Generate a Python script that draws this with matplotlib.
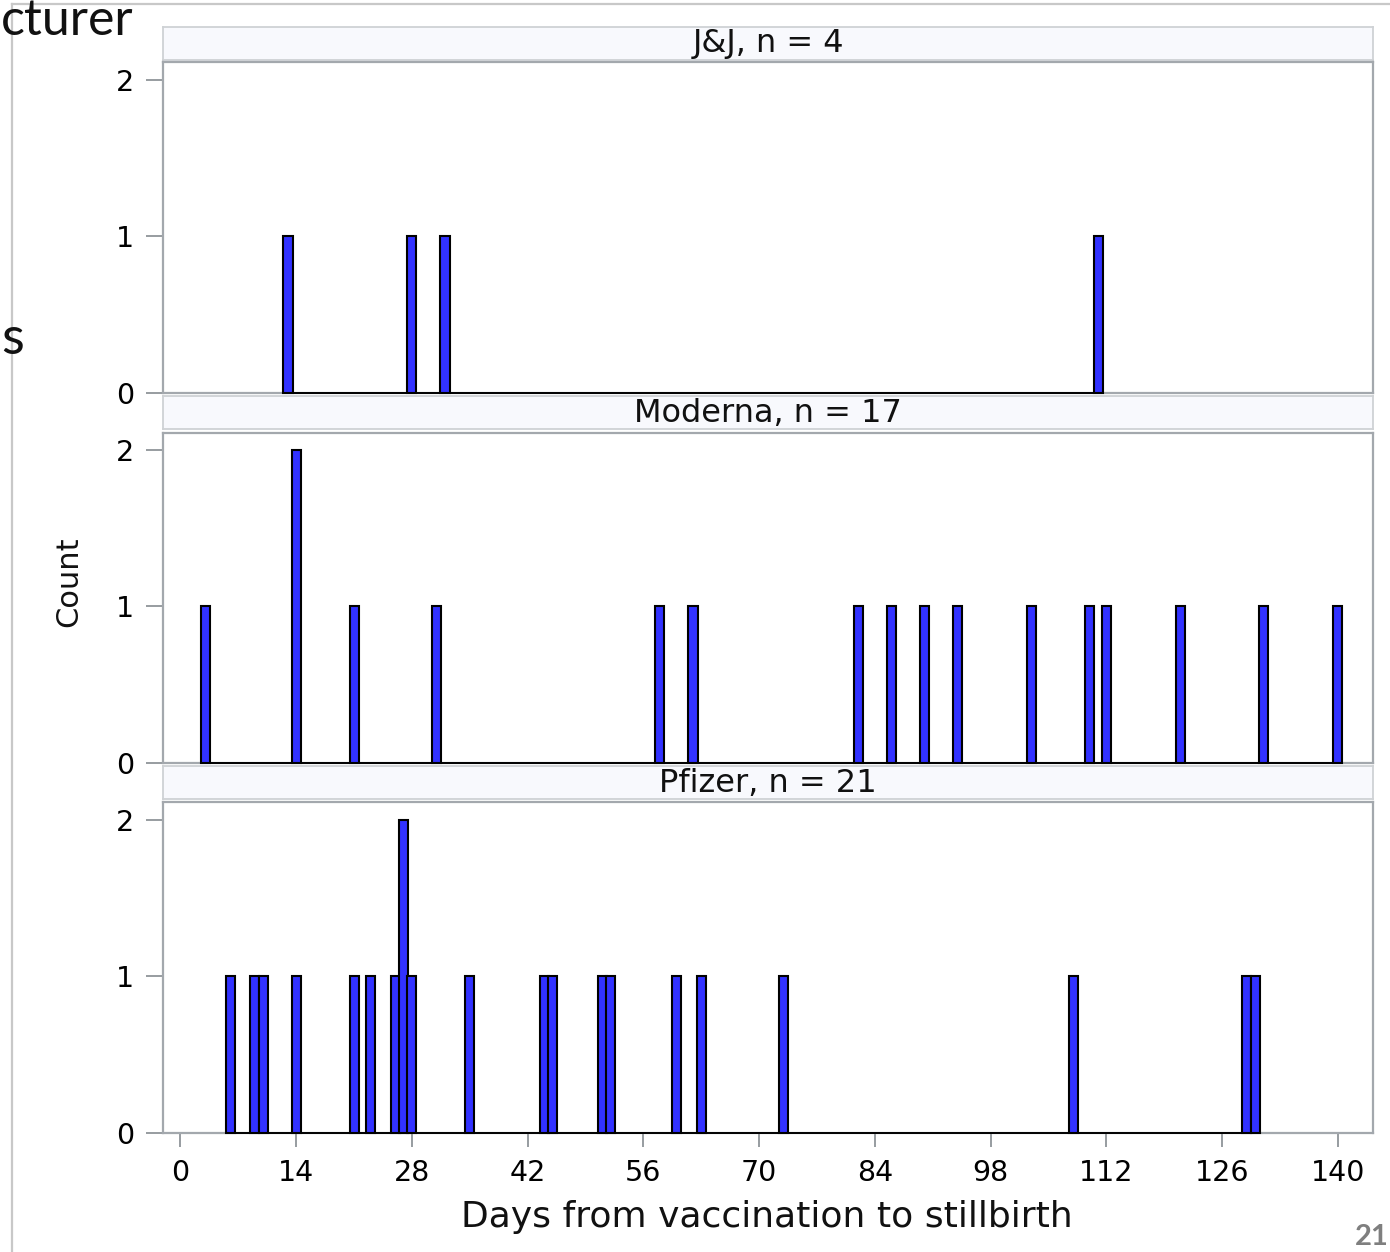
import matplotlib
matplotlib.use("Agg")
import matplotlib.pyplot as plt
from matplotlib.lines import Line2D

W, H = 1390, 1252
DPI = 100

# days from vaccination to stillbirth (one entry per bar) and bar heights
jj_days = [13, 28, 32, 111]
jj_count = [1, 1, 1, 1]

moderna_days = [3, 14, 21, 31, 58, 62, 82, 86, 90, 94, 103, 110, 112, 121, 131, 140]
moderna_count = [1, 2, 1, 1, 1, 1, 1, 1, 1, 1, 1, 1, 1, 1, 1, 1]

pfizer_days = [6, 9, 10, 14, 21, 23, 26, 27, 28, 35, 44, 45, 51, 52, 60, 63, 73, 108, 129, 130]
pfizer_count = [1, 1, 1, 1, 1, 1, 1, 2, 1, 1, 1, 1, 1, 1, 1, 1, 1, 1, 1, 1]

makers = ["J&J", "Moderna", "Pfizer"]
x_ticks = [0, 14, 28, 42, 56, 70, 84, 98, 112, 126, 140]
y_ticks = [0, 1, 2]

series = [(jj_days, jj_count), (moderna_days, moderna_count), (pfizer_days, pfizer_count)]

FRAME = "#a3a8ad"
TICK = "#8f9499"
BAR = "#3232ff"


def fx(px):
    return px / W


def fy(py):
    return 1 - py / H


fig = plt.figure(figsize=(W / DPI, H / DPI), dpi=DPI)
fig.patch.set_facecolor("white")

left, right = 163.3, 1373.0
panel_top = [62.3, 432.5, 802.3]
panel_h = 330.5
head_top = [26.5, 396.0, 766.0]
head_h = 33.0

for i, (days, counts) in enumerate(series):
    # strip header with the manufacturer name
    hx = fig.add_axes([fx(left), fy(head_top[i] + head_h), fx(right - left), head_h / H])
    hx.set_facecolor("#f8f9fd")
    hx.set_xticks([])
    hx.set_yticks([])
    for s in hx.spines.values():
        s.set_color("#cfd2d5")
        s.set_linewidth(1.3)
    hx.text(0.5, 0.47, f"{makers[i]}, n = {sum(counts)}", transform=hx.transAxes,
            ha="center", va="center", fontsize=23, color="#111111")

    ax = fig.add_axes([fx(left), fy(panel_top[i] + panel_h), fx(right - left), panel_h / H])
    ax.bar(days, counts, width=1.1, color=BAR, edgecolor="black", linewidth=1.5,
           clip_on=False, zorder=4)
    ax.plot([min(days) - 0.55, max(days) + 0.55], [0, 0], color="black", lw=1.4,
            clip_on=False, zorder=3.5)
    ax.set_xlim(-2.08, 144.26)
    ax.set_ylim(0, 2.11)
    ax.set_yticks(y_ticks)
    ax.tick_params(axis="y", length=12, width=1.3, color=TICK, pad=9, labelsize=20.5)
    if i == 2:
        ax.set_xticks(x_ticks)
        ax.tick_params(axis="x", length=10, width=1.3, color=TICK, pad=9, labelsize=20.5)
    else:
        ax.set_xticks([])
    for s in ax.spines.values():
        s.set_color(FRAME)
        s.set_linewidth(1.6)

fig.text(fx(767), fy(1217), "Days from vaccination to stillbirth", ha="center", va="center",
         fontsize=26, color="#111111")
fig.text(fx(69), fy(582), "Count", rotation=90, ha="center", va="center",
         fontsize=22, color="#111111")

# bits of the surrounding slide
fig.add_artist(Line2D([fx(12), 1.0], [fy(4), fy(4)], color="#c8c8c8", lw=1.6))
fig.add_artist(Line2D([fx(12), fx(12)], [fy(4), 0.0], color="#c8c8c8", lw=1.6))
fig.text(fx(1), fy(35), "cturer", ha="left", va="baseline", fontsize=36,
         family="Lato", color="#111111")
fig.text(fx(1), fy(354), "s", ha="left", va="baseline", fontsize=38,
         family="Lato", color="#111111")
fig.text(fx(1389), fy(1245), "21", ha="right", va="baseline", fontsize=21,
         fontweight="bold", family="Lato", color="#7f7f7f")

fig.savefig("out.png", dpi=DPI, facecolor="white")
